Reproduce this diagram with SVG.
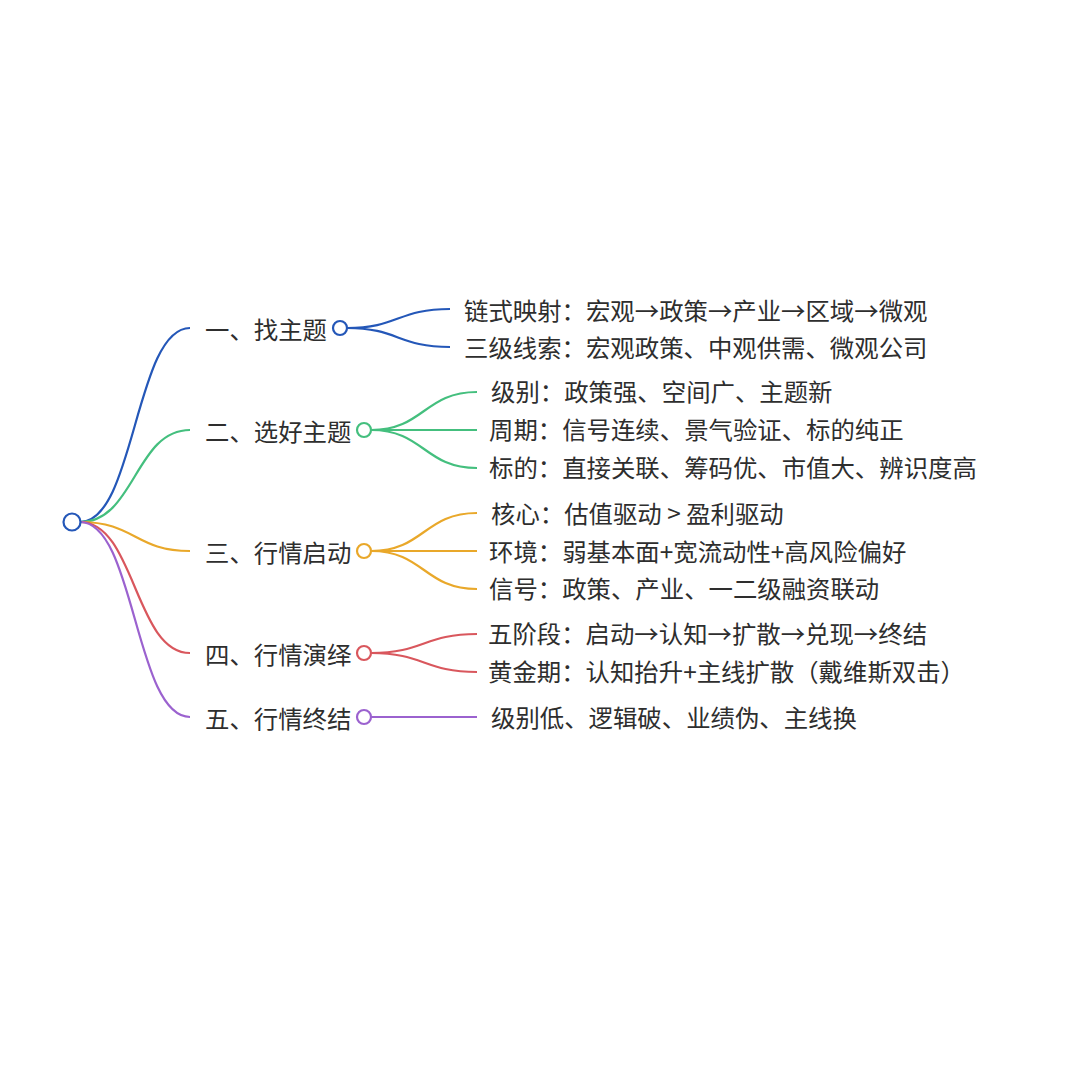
<svg xmlns="http://www.w3.org/2000/svg" width="1080" height="1080" viewBox="0 0 1080 1080">
<style>
text{font-family:"Noto Sans CJK SC","Noto Sans",sans-serif;font-size:24.4px;fill:#2e2e2e;dominant-baseline:central}
.c{fill:#fff;stroke-width:2.2}
path{fill:none;stroke-width:2.2}
.b{stroke:#2457b8}.g{stroke:#44bf7e}.o{stroke:#e9a82a}.r{stroke:#d9575d}.p{stroke:#9b62cf}
</style>
<rect width="1080" height="1080" fill="#fff"/>
<g id="connectors">
<path class="b" d="M80,522 C135,522 135,328 190,328"/>
<path class="g" d="M80,522 C135,522 135,430 190,430"/>
<path class="o" d="M80,522 C135,522 135,551 190,551"/>
<path class="r" d="M80,522 C135,522 135,653 190,653"/>
<path class="p" d="M80,522 C135,522 135,717 190,717"/>
<path class="b" d="M347,328 C398,328 398,309 450,309"/>
<path class="b" d="M347,328 C398,328 398,347 450,347"/>
<path class="g" d="M371,430 C424,430 424,392 477,392"/>
<path class="g" d="M371,430 L477,430"/>
<path class="g" d="M371,430 C424,430 424,468 477,468"/>
<path class="o" d="M371,551 C424,551 424,513 477,513"/>
<path class="o" d="M371,551 L477,551"/>
<path class="o" d="M371,551 C424,551 424,589 477,589"/>
<path class="r" d="M371,653 C424,653 424,634 477,634"/>
<path class="r" d="M371,653 C424,653 424,672 477,672"/>
<path class="p" d="M371,717 L477,717"/>
</g>
<g id="root"><circle class="c b" cx="72" cy="522" r="8.5"/></g>
<g id="n1"><text x="205" y="328">一、找主题</text><circle class="c b" cx="340" cy="328" r="7"/></g>
<g id="n2"><text x="205" y="430">二、选好主题</text><circle class="c g" cx="364" cy="430" r="7"/></g>
<g id="n3"><text x="205" y="551">三、行情启动</text><circle class="c o" cx="364" cy="551" r="7"/></g>
<g id="n4"><text x="205" y="653">四、行情演绎</text><circle class="c r" cx="364" cy="653" r="7"/></g>
<g id="n5"><text x="205" y="717">五、行情终结</text><circle class="c p" cx="364" cy="717" r="7"/></g>
<g id="n1a"><text x="464" y="309">链式映射：宏观→政策→产业→区域→微观</text></g>
<g id="n1b"><text x="464" y="346">三级线索：宏观政策、中观供需、微观公司</text></g>
<g id="n2a"><text x="491" y="390">级别：政策强、空间广、主题新</text></g>
<g id="n2b"><text x="489" y="428">周期：信号连续、景气验证、标的纯正</text></g>
<g id="n2c"><text x="489" y="466">标的：直接关联、筹码优、市值大、辨识度高</text></g>
<g id="n3a"><text x="491" y="512">核心：估值驱动 &gt; 盈利驱动</text></g>
<g id="n3b"><text x="489" y="550">环境：弱基本面+宽流动性+高风险偏好</text></g>
<g id="n3c"><text x="489" y="587">信号：政策、产业、一二级融资联动</text></g>
<g id="n4a"><text x="488" y="632">五阶段：启动→认知→扩散→兑现→终结</text></g>
<g id="n4b"><text x="488" y="670">黄金期：认知抬升+主线扩散（戴维斯双击）</text></g>
<g id="n5a"><text x="491" y="716">级别低、逻辑破、业绩伪、主线换</text></g>
</svg>
